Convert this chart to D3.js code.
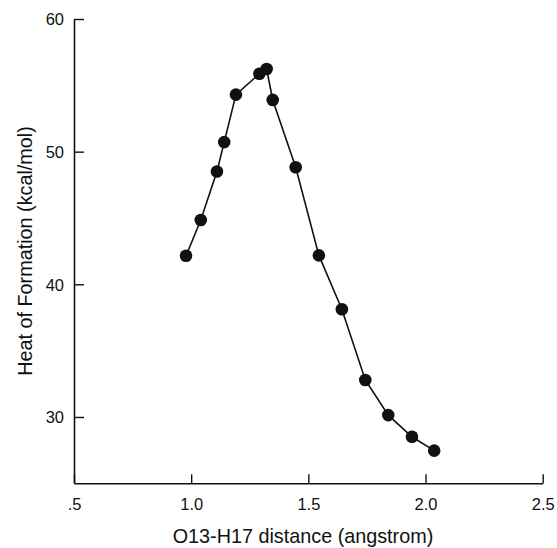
<!DOCTYPE html>
<html>
<head>
<meta charset="utf-8">
<script src="https://cdnjs.cloudflare.com/ajax/libs/d3/7.8.5/d3.min.js"></script>
<style>
body { margin: 0; background: #fff; }
text { font-family: "Liberation Sans", Arial, sans-serif; fill: #111; }
.tick-label { font-size: 16.5px; }
.axis-title { font-size: 19.8px; }
</style>
</head>
<body>
<div class="wrapper"></div>
<script>
// O13-H17 distance (angstrom)
const distance = [0.978, 1.041, 1.110, 1.141, 1.191, 1.291, 1.322, 1.348, 1.446, 1.545, 1.643, 1.743, 1.841, 1.942, 2.037]
// heat of formation (kcal/mol)
const heat = [42.15, 44.85, 48.5, 50.72, 54.3, 55.87, 56.23, 53.9, 48.82, 42.18, 38.12, 32.79, 30.14, 28.51, 27.46]

const xTicks = [0.5, 1.0, 1.5, 2.0, 2.5]
const xTickLabels = ['.5', '1.0', '1.5', '2.0', '2.5']
const yTicks = [30, 40, 50, 60]

const width = 557
const height = 548

const svg = d3.select('.wrapper')
.append('svg')
.attr('width', width)
.attr('height', height)

const x = d3.scaleLinear()
.domain([0.5, 2.5])
.range([74, 542.7])

const y = d3.scaleLinear()
.domain([25, 60])
.range([483.3, 19])

const ink = '#111'

// axes lines, ticks pointing inward
const xAxis = svg.append('g')
.attr('transform', 'translate(0,' + y(25) + ')')
.call(d3.axisBottom(x).tickValues(xTicks).tickSizeInner(-9).tickSizeOuter(0).tickFormat((d, i) => xTickLabels[i]))

xAxis.select('.domain').attr('stroke', ink).attr('stroke-width', 1.6)
xAxis.selectAll('.tick line').attr('stroke', ink).attr('stroke-width', 1.4)
xAxis.selectAll('.tick text')
.attr('class', 'tick-label')
.attr('font-family', null)
.attr('font-size', null)
.attr('y', 27)
.attr('dy', 0)
.attr('fill', ink)

const yAxis = svg.append('g')
.attr('transform', 'translate(' + x(0.5) + ',0)')
.call(d3.axisLeft(y).tickValues(yTicks).tickSizeInner(-10).tickSizeOuter(0))

yAxis.select('.domain').attr('stroke', ink).attr('stroke-width', 1.6)
yAxis.selectAll('.tick line').attr('stroke', ink).attr('stroke-width', 1.4)
yAxis.selectAll('.tick text')
.attr('class', 'tick-label')
.attr('font-family', null)
.attr('font-size', null)
.attr('x', -10)
.attr('dy', '0.35em')
.attr('fill', ink)

// axis titles
svg.append('text')
.attr('class', 'axis-title')
.attr('x', 303)
.attr('y', 543)
.attr('text-anchor', 'middle')
.text('O13-H17 distance (angstrom)')

svg.append('text')
.attr('class', 'axis-title')
.attr('transform', 'translate(32,' + 251 + ') rotate(-90)')
.attr('text-anchor', 'middle')
.text('Heat of Formation (kcal/mol)')

const points = distance.map((d, i) => ({ d: d, h: heat[i] }))

const line = d3.line()
.x(p => x(p.d))
.y(p => y(p.h))

svg.append('path')
.datum(points)
.attr('d', line)
.attr('fill', 'none')
.attr('stroke', ink)
.attr('stroke-width', 1.6)

svg.append('g')
.selectAll('circle')
.data(points)
.enter()
.append('circle')
.attr('cx', p => x(p.d))
.attr('cy', p => y(p.h))
.attr('r', 6.3)
.attr('fill', ink)
</script>
</body>
</html>
